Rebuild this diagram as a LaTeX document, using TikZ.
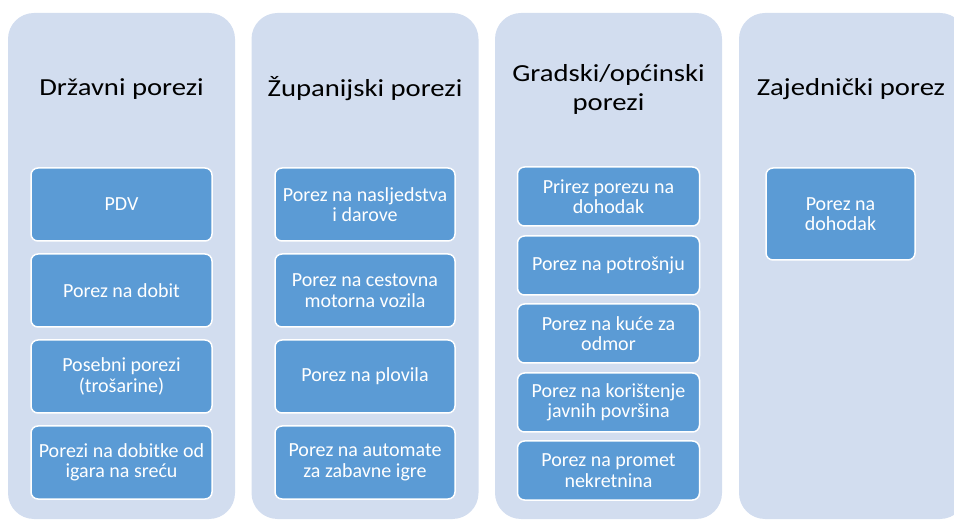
\documentclass[tikz,border=0pt]{standalone}
\usepackage{fontspec}
\setmainfont{Carlito}
\newfontfamily\titlefont[FakeStretch=1.17]{Carlito}
\definecolor{colbg}{HTML}{D2DDEF}
\definecolor{boxbg}{HTML}{5B9BD5}
\begin{document}
\begin{tikzpicture}[x=1pt,y=1pt,
  colbox/.style={rectangle,rounded corners=26pt,fill=colbg,draw=none,minimum width=227pt,minimum height=506pt,inner sep=0pt},
  title/.style={align=center,text=black,font=\titlefont\fontsize{24.5}{29}\selectfont,inner sep=0pt},
  item/.style={rectangle,rounded corners=7pt,fill=boxbg,draw=white,line width=1.5pt,text=white,align=center,font=\fontsize{20}{20.5}\selectfont,inner sep=0pt}]
\useasboundingbox (0,0) rectangle (954,-521);
\clip (0,0) rectangle (954,-521);
% columns
\node[colbox] (c1) at (121.5,-266) {};
\node[colbox] (c2) at (365,-266) {};
\node[colbox] (c3) at (608.5,-266) {};
\node[colbox] (c4) at (852.5,-266) {};
% titles
\node[title] (t1) at (121.5,-89) {Državni porezi};
\node[title] (t2) at (365,-89) {Županijski porezi};
\node[title] (t3) at (608.5,-89) {Gradski/općinski\\porezi};
\node[title] (t4) at (851,-89) {Zajednički porez};
% column 1
\begin{scope}[every node/.append style={minimum width=181pt,minimum height=73pt}]
\node[item] (a1) at (121.5,-204.5) {PDV};
\node[item] (a2) at (121.5,-290.5) {Porez na dobit};
\node[item] (a3) at (121.5,-376.5) {Posebni porezi\\(trošarine)};
\node[item] (a4) at (121.5,-462.5) {Porezi na dobitke od\\igara na sreću};
\end{scope}
% column 2
\begin{scope}[every node/.append style={minimum width=180pt,minimum height=73pt}]
\node[item] (b1) at (365,-204.5) {Porez na nasljedstva\\i darove};
\node[item] (b2) at (365,-290.5) {Porez na cestovna\\motorna vozila};
\node[item] (b3) at (365,-376.5) {Porez na plovila};
\node[item] (b4) at (365,-462.5) {Porez na automate\\za zabavne igre};
\end{scope}
% column 3
\begin{scope}[every node/.append style={minimum width=182pt,minimum height=59pt}]
\node[item] (g1) at (608.5,-196.5) {Prirez porezu na\\dohodak};
\node[item] (g2) at (608.5,-265.5) {Porez na potrošnju};
\node[item] (g3) at (608.5,-333.5) {Porez na kuće za\\odmor};
\node[item] (g4) at (608.5,-402.5) {Porez na korištenje\\javnih površina};
\node[item] (g5) at (608.5,-470.5) {Porez na promet\\nekretnina};
\end{scope}
% column 4
\node[item,minimum width=149pt,minimum height=92pt] (z1) at (840.5,-214) {Porez na\\dohodak};
\end{tikzpicture}
\end{document}
